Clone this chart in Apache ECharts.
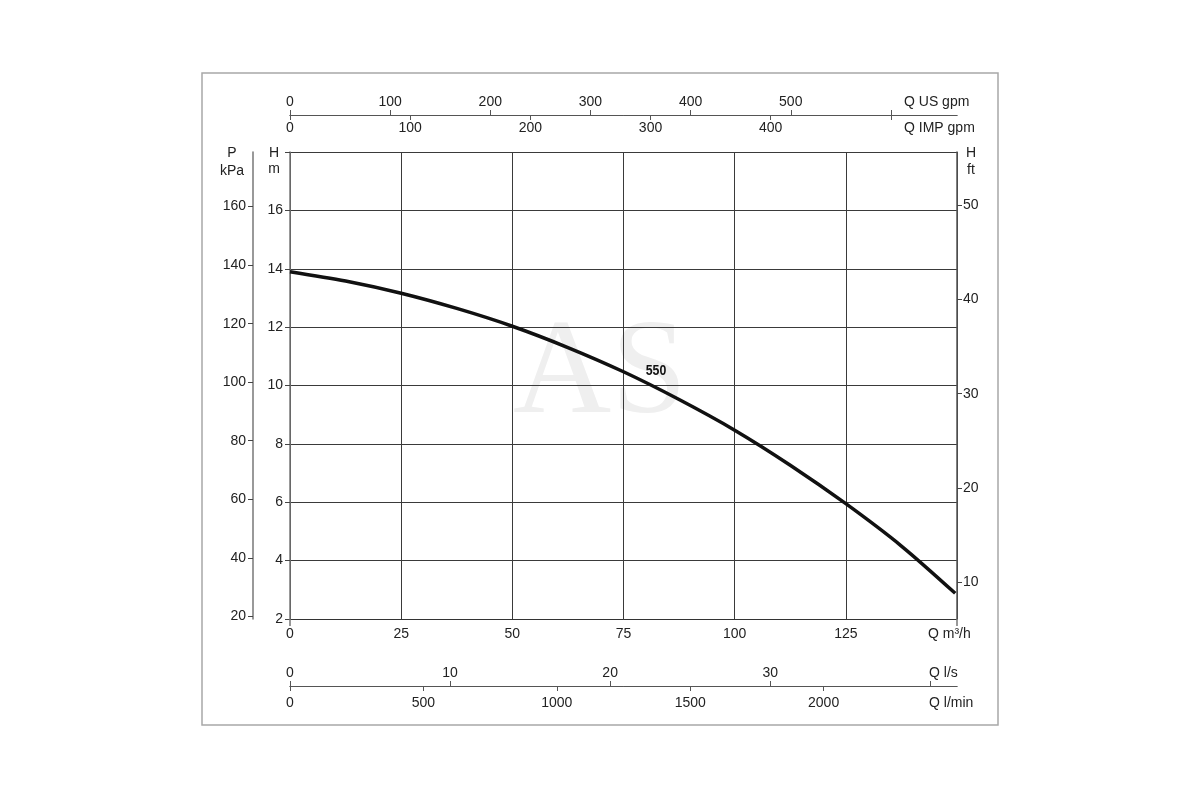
<!DOCTYPE html>
<html lang="en">
<head>
    <meta charset="UTF-8">
    <title>Pump curve 550</title>
    <script src="https://cdn.jsdelivr.net/npm/echarts@6/dist/echarts.min.js"></script>
    <style>
        html, body { margin: 0; padding: 0; background: #fff; }
        #chart { width: 1200px; height: 800px; }
    </style>
</head>
<body>
    <div id="chart"></div>
    <script>
        // curve: flow (m3/h) and head (m)
        const flowM3h = [0, 12.5, 25, 37.5, 50, 62.5, 75, 87.5, 100, 112.5, 125, 137.5, 149.6];
        const headM = [13.9, 13.58, 13.16, 12.64, 12.03, 11.3, 10.47, 9.52, 8.47, 7.27, 5.95, 4.5, 2.88];
        const curveName = '550';

        // tick labels of every scale
        const qM3hLabels = [0, 25, 50, 75, 100, 125];
        const qM3hEndTicks = [0, 150];
        const usGpmTicks = [0, 100, 200, 300, 400, 500, 600];
        const usGpmLabels = [0, 100, 200, 300, 400, 500];
        const impGpmTicks = [0, 100, 200, 300, 400, 500];
        const impGpmLabels = [0, 100, 200, 300, 400];
        const lsTicks = [0, 10, 20, 30, 40];
        const lsLabels = [0, 10, 20, 30];
        const lminLabels = [0, 500, 1000, 1500, 2000];
        const headMLabels = [2, 4, 6, 8, 10, 12, 14, 16];
        const kpaLabels = [20, 40, 60, 80, 100, 120, 140, 160];
        const ftLabels = [10, 20, 30, 40, 50];

        const txt = '#222';
        const font = 'Liberation Sans, Arial, sans-serif';
        const axisGray = '#777';
        const plain = v => String(v);

        function secondaryX(pos, offset, max, ticks, labels, inside, margin) {
            return {
                type: 'value', position: pos, offset: offset, min: 0, max: max,
                axisLine: { show: true, onZero: false, lineStyle: { color: '#555', width: 1 } },
                axisTick: { show: true, inside: inside, length: 5, customValues: ticks, lineStyle: { color: '#555' } },
                axisLabel: { inside: inside, margin: margin, customValues: labels, formatter: plain, color: txt, fontSize: 14, fontFamily: font },
                splitLine: { show: false }
            };
        }

        function sideY(pos, offset, min, max, ticks, margin, color) {
            return {
                type: 'value', position: pos, offset: offset, min: min, max: max,
                axisLine: { show: true, onZero: false, lineStyle: { color: color, width: 1.5 } },
                axisTick: { show: true, length: 5, customValues: ticks, lineStyle: { color: '#444' } },
                axisLabel: { margin: margin, customValues: ticks, formatter: plain, color: txt, fontSize: 14, fontFamily: font },
                splitLine: { show: false }
            };
        }

        function label(text, x, y, align) {
            return {
                type: 'text', x: x, y: y,
                style: { text: text, fill: txt, fontSize: 14, fontFamily: font, align: align || 'left', verticalAlign: 'middle' }
            };
        }

        const chart = echarts.init(document.getElementById('chart'));
        chart.setOption({
            animation: false,
            backgroundColor: '#fff',
            grid: { left: 290, right: 243, top: 152, bottom: 181 },
            xAxis: [
                {
                    type: 'value', min: 0, max: 150, interval: 25,
                    axisLine: { show: true, onZero: false, lineStyle: { color: '#333', width: 1 } },
                    axisTick: { show: false },
                    axisLabel: { margin: 8, customValues: qM3hLabels, color: txt, fontSize: 14, fontFamily: font },
                    splitLine: { show: true, lineStyle: { color: '#3a3a3a', width: 1 } }
                },
                secondaryX('top', 37, 666, usGpmTicks, usGpmLabels, false, 6),
                secondaryX('top', 37, 555, impGpmTicks, impGpmLabels, true, 6),
                secondaryX('bottom', 67, 41.67, lsTicks, lsLabels, true, 6),
                secondaryX('bottom', 67, 2500, lminLabels, lminLabels, false, 10),
                {
                    // short ticks below the plot at both ends of the m3/h scale
                    type: 'value', position: 'bottom', min: 0, max: 150,
                    axisLine: { show: false },
                    axisTick: { show: true, length: 7, customValues: qM3hEndTicks, lineStyle: { color: axisGray, width: 1.5 } },
                    axisLabel: { show: false },
                    splitLine: { show: false }
                }
            ],
            yAxis: [
                {
                    type: 'value', min: 2, max: 18, interval: 2,
                    axisLine: { show: true, onZero: false, lineStyle: { color: axisGray, width: 1.5 } },
                    axisTick: { show: true, length: 5, lineStyle: { color: '#444' } },
                    axisLabel: { margin: 7, customValues: headMLabels, color: txt, fontSize: 14, fontFamily: font },
                    splitLine: { show: true, lineStyle: { color: '#3a3a3a', width: 1 } }
                },
                sideY('left', 37, 19.08, 178.65, kpaLabels, 7, axisGray),
                sideY('right', 0, 6.11, 55.62, ftLabels, 6, '#555')
            ],
            series: [{
                name: curveName,
                type: 'line',
                xAxisIndex: 0,
                yAxisIndex: 0,
                smooth: 0.3,
                symbol: 'none',
                lineStyle: { color: '#111', width: 3.5 },
                data: flowM3h.map((q, i) => [q, headM[i]]),
                z: 5
            }],
            graphic: [
                {
                    type: 'text', x: 600, y: 444, z: -10,
                    style: { text: 'AS', fill: '#efefef', fontSize: 136, fontFamily: 'Liberation Serif, serif', align: 'center', verticalAlign: 'bottom' }
                },
                {
                    type: 'rect', shape: { x: 202, y: 73, width: 796, height: 652 },
                    style: { fill: 'none', stroke: '#a8a8a8', lineWidth: 1.5 }
                },
                {
                    type: 'text', x: 656, y: 371, z: 10, scaleX: 0.82,
                    style: { text: curveName, fill: '#111', fontSize: 15, fontWeight: 'bold', fontFamily: 'Liberation Sans Narrow, Liberation Sans, sans-serif', align: 'center', verticalAlign: 'middle' }
                },
                label('P', 232, 153, 'center'),
                label('kPa', 232, 171, 'center'),
                label('H', 274, 153, 'center'),
                label('m', 274, 169, 'center'),
                label('H', 971, 153, 'center'),
                label('ft', 971, 170, 'center'),
                label('Q US gpm', 904, 102),
                label('Q IMP gpm', 904, 128),
                label('Q m³/h', 928, 634),
                label('Q l/s', 929, 673),
                label('Q l/min', 929, 703)
            ]
        });
    </script>
</body>
</html>
